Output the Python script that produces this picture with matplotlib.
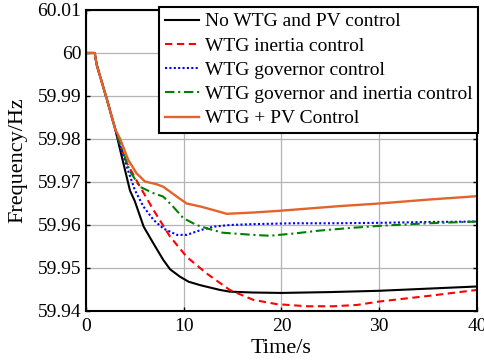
import matplotlib
matplotlib.use('Agg')
import matplotlib.pyplot as plt

plt.rcParams['font.family'] = ['Liberation Serif', 'DejaVu Serif']

# Common start of every curve (disturbance at ~1 s)
t_start = [0, 0.9, 1.0, 1.1, 2.1, 3.0]
f_start = [60.0, 60.0, 59.9985, 59.9972, 59.9895, 59.9822]

t_none = t_start + [3.5, 4.5, 5.0, 5.9, 6.9, 7.9, 8.6, 9.6, 10.5, 11.7, 13.7, 14.7, 17, 20, 25, 30, 35, 40]
f_none = f_start + [59.9774, 59.968, 59.9655, 59.9596, 59.9557, 59.9519, 59.9497, 59.948, 59.9468, 59.946,
                    59.9449, 59.9445, 59.9443, 59.9442, 59.9444, 59.9447, 59.9452, 59.9457]

t_inertia = t_start + [3.5, 4.16, 5.5, 6.9, 8.6, 10.3, 12.3, 14.7, 17.1, 19.5, 22.6, 25.3, 27.7, 30, 35, 40]
f_inertia = f_start + [59.9785, 59.9745, 59.969, 59.9635, 59.9573, 59.9526, 59.9488, 59.9449, 59.9426, 59.9416,
                       59.9411, 59.9411, 59.9414, 59.9422, 59.9435, 59.9449]

t_gov = t_start + [3.5, 4.16, 5.0, 5.87, 6.9, 7.9, 9.3, 10.3, 11.7, 13.0, 14.7, 17.1, 21.2, 25, 30, 35, 40]
f_gov = f_start + [59.9785, 59.9736, 59.9681, 59.9643, 59.9612, 59.9592, 59.9577, 59.9577, 59.9588, 59.9596,
                   59.96, 59.9602, 59.9604, 59.9604, 59.9605, 59.9607, 59.9608]

t_gov_inertia = t_start + [3.5, 4.5, 5.5, 6.9, 7.9, 8.9, 9.95, 11.3, 12.7, 14.0, 17.1, 18.8, 21.2, 23.9, 27, 30, 35, 40]
f_gov_inertia = f_start + [59.9788, 59.9725, 59.9689, 59.9674, 59.9666, 59.9643, 59.9616, 59.96, 59.959, 59.9582,
                           59.9577, 59.9575, 59.958, 59.9587, 59.9593, 59.9598, 59.9604, 59.9608]

t_pv = t_start + [3.5, 4.33, 5.18, 6.04, 7.2, 7.9, 9.6, 10.3, 11.7, 13.0, 14.4, 17.1, 19.8, 22.6, 26, 30, 35, 40]
f_pv = f_start + [59.98, 59.9751, 59.972, 59.9701, 59.9695, 59.9689, 59.9661, 59.965, 59.9643, 59.9635, 59.9626,
                  59.9629, 59.9633, 59.9638, 59.9644, 59.965, 59.9659, 59.9667]

labels = ['No WTG and PV control', 'WTG inertia control', 'WTG governor control',
          'WTG governor and inertia control', 'WTG + PV Control']

x_ticks = [0, 10, 20, 30, 40]
y_ticks = [59.94, 59.95, 59.96, 59.97, 59.98, 59.99, 60.0, 60.01]
y_ticklabels = ['59.94', '59.95', '59.96', '59.97', '59.98', '59.99', '60', '60.01']

fig = plt.figure(figsize=(4.84, 3.62), dpi=100)
ax = fig.add_axes([0.1777, 0.1409, 0.8078, 0.8315])

lw = 1.5
ax.plot(t_none, f_none, color='black', lw=lw, label=labels[0])
ax.plot(t_inertia, f_inertia, color='#ff0000', ls=(0, (3.5, 2.2)), lw=lw, label=labels[1])
ax.plot(t_gov, f_gov, color='#0000ff', ls=(0, (1, 1.1)), lw=lw, label=labels[2])
ax.plot(t_gov_inertia, f_gov_inertia, color='#008000', ls=(0, (4.5, 1.8, 1, 1.8)), lw=lw, label=labels[3])
ax.plot(t_pv, f_pv, color='#e2642c', lw=lw + 0.2, label=labels[4])

ax.set_xlim(0, 40)
ax.set_ylim(59.94, 60.01)
ax.set_xticks(x_ticks)
ax.set_yticks(y_ticks)
ax.set_yticklabels(y_ticklabels)
ax.tick_params(direction='in', labelsize=14, top=True, right=True, length=3, width=1)
ax.tick_params(axis='x', pad=5)
ax.grid(True, color='#b4b4b4', lw=0.9)
for s in ax.spines.values():
    s.set_linewidth(1.5)

ax.set_xlabel('Time/s', fontsize=16, labelpad=3)
ax.set_ylabel('Frequency/Hz', fontsize=16, labelpad=7)

leg = ax.legend(loc='upper right', bbox_to_anchor=(478 / 484, 1 - 7 / 362),
                bbox_transform=fig.transFigure, borderaxespad=0, fontsize=14,
                handlelength=1.75, handletextpad=0.3, labelspacing=0.34,
                borderpad=0.3, fancybox=False, framealpha=1, edgecolor='black')
leg.get_frame().set_linewidth(1.5)

fig.savefig('out.png', dpi=100)
